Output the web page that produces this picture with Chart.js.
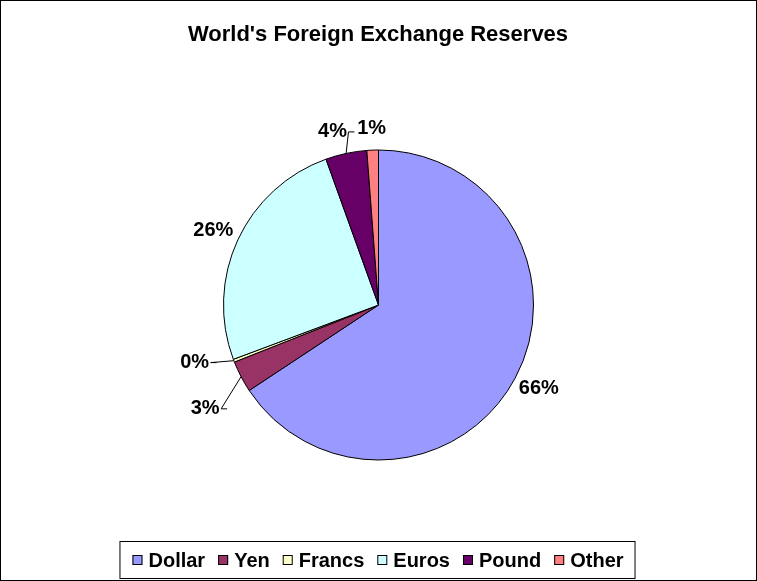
<!DOCTYPE html>
<html>
<head>
<script src="https://cdn.jsdelivr.net/npm/chart.js@4"></script>
<style>
  body { margin: 0; background: #fff; }
  canvas { display: block; }
</style>
</head>
<body>
<canvas id="chartscreen" width="757" height="581"></canvas>
<script>
const categories = ["Dollar", "Yen", "Francs", "Euros", "Pound", "Other"];
const shares = [65.7, 3.3, 0.3, 25.2, 4.3, 1.2];
const pctLabels = ["66%", "3%", "0%", "26%", "4%", "1%"];
const colors = ["#9999FF", "#993366", "#FFFFCC", "#CCFFFF", "#660066", "#FF8080"];

// label nudges for the crowded small slices (dx, dy in px)
const nudges = [[0, 0], [-12, 22], [-14, -6], [0, 0], [-8, 0], [0, 0]];
const FONT = "bold 20px Arial, 'Liberation Sans', sans-serif";

const decorations = {
  id: "decorations",
  afterDraw(chart) {
    const ctx = chart.ctx;
    ctx.save();
    // outer frame
    ctx.strokeStyle = "#000";
    ctx.lineWidth = 1;
    ctx.strokeRect(0.5, 0.5, 756, 580);

    // title
    ctx.fillStyle = "#000";
    ctx.font = "bold 22px Arial, 'Liberation Sans', sans-serif";
    ctx.textAlign = "center";
    ctx.textBaseline = "middle";
    ctx.fillText("World's Foreign Exchange Reserves", 378, 35);

    // percentage labels
    ctx.font = FONT;
    const arcs = chart.getDatasetMeta(0).data;
    arcs.forEach((arc, i) => {
      const mid = (arc.startAngle + arc.endAngle) / 2;
      const r = arc.outerRadius;
      let lx = arc.x + Math.cos(mid) * (r + 27) + nudges[i][0];
      let ly = arc.y + Math.sin(mid) * (r + 22) + nudges[i][1];
      if (nudges[i][0] !== 0 || nudges[i][1] !== 0) {
        // leader line
        const ex = arc.x + Math.cos(mid) * r;
        const ey = arc.y + Math.sin(mid) * r;
        ctx.beginPath();
        ctx.moveTo(ex, ey);
        ctx.lineTo(lx + 16, ly);
        ctx.lineTo(lx + 22, ly);
        ctx.stroke();
      }
      ctx.fillText(pctLabels[i], lx, ly);
    });

    // legend box
    ctx.textAlign = "left";
    const box = 10, gap = 6, itemGap = 13;
    let total = 0;
    const widths = categories.map(c => ctx.measureText(c).width);
    widths.forEach(w => total += box + gap + w);
    total += itemGap * (categories.length - 1);
    let x = 378 - total / 2;
    const y = 560;
    ctx.strokeRect(x - 12.5, 541.5, total + 24, 37);
    categories.forEach((c, i) => {
      ctx.fillStyle = colors[i];
      ctx.fillRect(x, y - 5, box, box);
      ctx.strokeRect(x + 0.5, y - 4.5, box - 1, box - 1);
      ctx.fillStyle = "#000";
      ctx.fillText(c, x + box + gap, y + 1);
      x += box + gap + widths[i] + itemGap;
    });
    ctx.restore();
  }
};

new Chart(document.getElementById("chartscreen"), {
  type: "pie",
  data: {
    labels: categories,
    datasets: [{
      data: shares,
      backgroundColor: colors,
      borderColor: "#000",
      borderWidth: 1
    }]
  },
  options: {
    responsive: false,
    animation: false,
    radius: 155,
    layout: { padding: { top: 150, bottom: 121 } },
    plugins: {
      legend: { display: false },
      title: { display: false },
      tooltip: { enabled: false }
    }
  },
  plugins: [decorations]
});
</script>
</body>
</html>
